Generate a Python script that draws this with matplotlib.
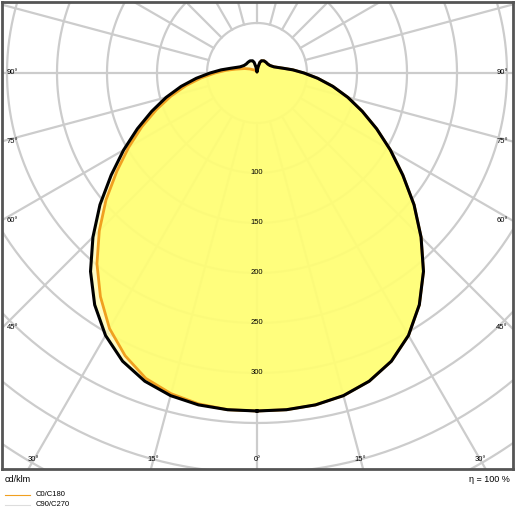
import numpy as np
import matplotlib.pyplot as plt
from matplotlib.lines import Line2D

plt.rcParams['font.family'] = ['Liberation Sans', 'DejaVu Sans']

# gamma angles (deg) and intensities (cd/klm)
gamma = [0, 5, 10, 15, 20, 25, 30, 35, 40, 45, 50, 55, 60, 65, 70, 75, 80, 85, 90,
         95, 100, 110, 120, 130, 140, 150, 160, 165, 170, 175, 180]
c90 = [338, 338, 337, 334, 328, 318, 303, 283, 259, 232, 205, 178, 154, 132, 112, 94, 77, 61, 47,
       36, 27, 18, 15, 14, 14, 14, 13, 11, 6, 2, 1]
c0_left = [338, 338, 336, 332, 325, 312, 295, 273, 249, 223, 197, 171, 148, 127, 107, 89, 72, 56, 42,
           31, 22, 13, 8, 5, 4, 3, 2, 2, 1, 1, 1]
radii = [50, 100, 150, 200, 250, 300, 350, 400, 450, 500]
r_labels = [100, 150, 200, 250, 300]
side_angles = [90, 75, 60, 45]
bottom_angles = [30, 15, 0]

W, H = 515, 515
fig = plt.figure(figsize=(5.15, 5.15), dpi=100)
x0, x1, y0, y1 = 2, 513, 2, 469
ax = fig.add_axes([x0 / W, 1 - y1 / H, (x1 - x0) / W, (y1 - y0) / H])
cx, cy = 257, 73
ax.set_xlim(x0 - cx, x1 - cx)
ax.set_ylim(y1 - cy, y0 - cy)
ax.set_xticks([]); ax.set_yticks([])
for s in ax.spines.values():
    s.set_color('#555555'); s.set_linewidth(2)

grid = '#cccccc'
t = np.linspace(0, 2 * np.pi, 400)
for r in radii:
    ax.plot(r * np.cos(t), r * np.sin(t), color=grid, lw=1.6, zorder=1)
for a in range(0, 360, 15):
    ar = np.deg2rad(a)
    ax.plot([50 * np.sin(ar), 700 * np.sin(ar)], [50 * np.cos(ar), 700 * np.cos(ar)], color=grid, lw=1.6, zorder=1)

def curve(g, r):
    g = np.deg2rad(np.array(g)); r = np.array(r)
    return r * np.sin(g), r * np.cos(g)

bx, by = curve(gamma, c90)
BX = np.concatenate([-bx, bx[::-1]]); BY = np.concatenate([by, by[::-1]])
ox, oy = curve(gamma, c0_left)
OX = np.concatenate([-ox, bx[::-1]]); OY = np.concatenate([oy, by[::-1]])

ax.fill(BX, BY, color='#fffbb0', alpha=0.75, zorder=2, lw=0)
ax.fill(OX, OY, color='#ffff66', alpha=0.75, zorder=2, lw=0)
ax.plot(OX, OY, color='#f0a020', lw=2, zorder=3)
ax.plot(BX, BY, color='black', lw=2.2, zorder=4, solid_joinstyle='round')

for r in r_labels:
    ax.text(0, r, str(r), fontsize=5.5, ha='center', va='center', zorder=5)
for a in side_angles:
    y = 255 / np.tan(np.deg2rad(a)) if a != 90 else 0
    ax.text(x0 - cx + 5, y, f'{a}°', fontsize=5.5, ha='left', va='center', zorder=5)
    ax.text(x1 - cx - 5, y, f'{a}°', fontsize=5.5, ha='right', va='center', zorder=5)
for a in bottom_angles:
    x = 387 * np.tan(np.deg2rad(a))
    for sgn in ([1] if a == 0 else [-1, 1]):
        ax.text(sgn * x, 387, f'{a}°', fontsize=5.5, ha='center', va='center', zorder=5)

fig.text(5 / W, 1 - 479 / H, 'cd/klm', fontsize=6.5, va='center', ha='left')
fig.text(510 / W, 1 - 479 / H, 'η = 100 %', fontsize=6.5, va='center', ha='right')
fig.add_artist(Line2D([5 / W, 30 / W], [1 - 495 / H] * 2, color='#f0a020', lw=0.8))
fig.add_artist(Line2D([5 / W, 30 / W], [1 - 505 / H] * 2, color='#dddddd', lw=0.8))
fig.text(36 / W, 1 - 495 / H, 'C0/C180', fontsize=5.5, va='center')
fig.text(36 / W, 1 - 505 / H, 'C90/C270', fontsize=5.5, va='center')

fig.savefig('out.png', dpi=100)
